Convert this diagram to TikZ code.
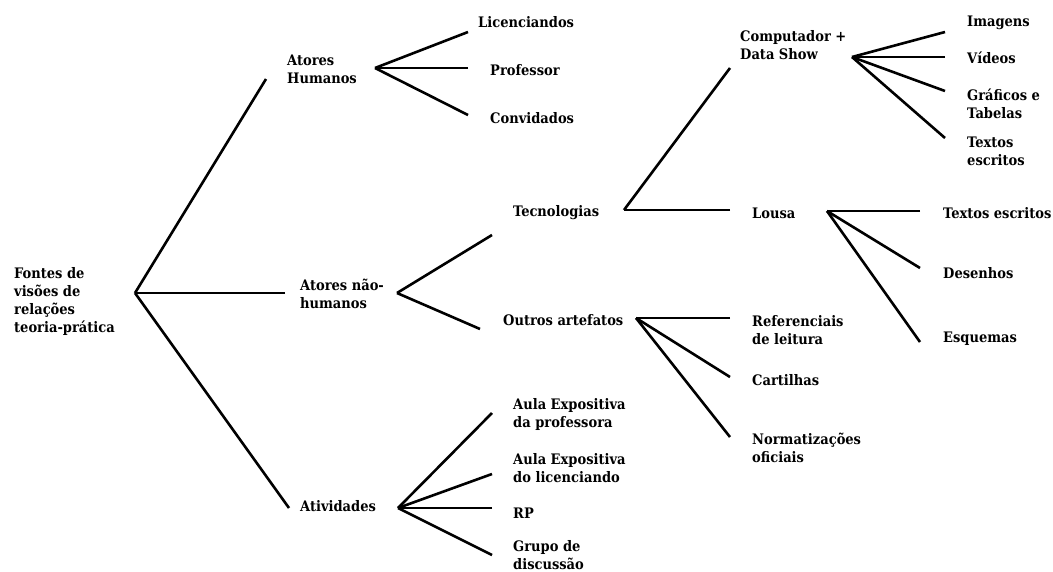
\documentclass[tikz,border=0pt]{standalone}
\usepackage{fontspec}
\setmainfont{DejaVu Serif Condensed}
\begin{document}
\begin{tikzpicture}[x=1pt,y=-1pt,
  lbl/.style={anchor=west,inner sep=0pt,align=left,
    font=\fontsize{14.5}{18}\selectfont\bfseries},
  branch/.style={line width=2.6pt,line join=round}]
\useasboundingbox (0,0) rectangle (1053,571);

% labels
\node[lbl] (root)   at (14,301)  {Fontes de\\visões de\\relações\\teoria-prática};
\node[lbl] (ah)     at (287,69)  {Atores\\Humanos};
\node[lbl] (lic)    at (478,22)  {Licenciandos};
\node[lbl] (prof)   at (490,70)  {Professor};
\node[lbl] (conv)   at (490,118) {Convidados};
\node[lbl] (anh)    at (300,294) {Atores não-\\humanos};
\node[lbl] (tec)    at (513,213) {Tecnologias};
\node[lbl] (cds)    at (740,45)  {Computador +\\Data Show};
\node[lbl] (img)    at (967,23)  {Imagens};
\node[lbl] (vid)    at (967,58)  {Vídeos};
\node[lbl] (graf)   at (967,104) {Gráficos e\\Tabelas};
\node[lbl] (txa)    at (967,151) {Textos\\escritos};
\node[lbl] (lousa)  at (752,213) {Lousa};
\node[lbl] (txb)    at (943,213) {Textos escritos};
\node[lbl] (des)    at (943,273) {Desenhos};
\node[lbl] (esq)    at (943,339) {Esquemas};
\node[lbl] (outros) at (503,320) {Outros artefatos};
\node[lbl] (ref)    at (752,330) {Referenciais\\de leitura};
\node[lbl] (cart)   at (752,380) {Cartilhas};
\node[lbl] (norm)   at (752,448) {Normatizações\\oficiais};
\node[lbl] (ativ)   at (300,506) {Atividades};
\node[lbl] (aep)    at (513,414) {Aula Expositiva\\da professora};
\node[lbl] (ael)    at (513,468) {Aula Expositiva\\do licenciando};
\node[lbl] (rp)     at (513,513) {RP};
\node[lbl] (grupo)  at (513,555) {Grupo de\\discussão};

% branching points
\coordinate (j0) at (135,293);
\coordinate (j1) at (375,68);
\coordinate (j2) at (397,293);
\coordinate (j3) at (624,210);
\coordinate (j4) at (852,57);
\coordinate (j5) at (827,211);
\coordinate (j6) at (636,318);
\coordinate (j7) at (398,508);

% branch tips
\coordinate (t-ah)    at (266,79);
\coordinate (t-anh)   at (285,293);
\coordinate (t-ativ)  at (289,508);
\coordinate (t-lic)   at (468,32);
\coordinate (t-prof)  at (468,68);
\coordinate (t-conv)  at (468,115);
\coordinate (t-tec)   at (492,235);
\coordinate (t-out)   at (480,329);
\coordinate (t-cds)   at (730,68);
\coordinate (t-lousa) at (730,210);
\coordinate (t-img)   at (945,32);
\coordinate (t-vid)   at (945,57);
\coordinate (t-graf)  at (945,91);
\coordinate (t-txa)   at (945,138);
\coordinate (t-txb)   at (920,211);
\coordinate (t-des)   at (920,268);
\coordinate (t-esq)   at (920,342);
\coordinate (t-ref)   at (730,318);
\coordinate (t-cart)  at (730,377);
\coordinate (t-norm)  at (730,437);
\coordinate (t-aep)   at (492,413);
\coordinate (t-ael)   at (492,474);
\coordinate (t-rp)    at (492,508);
\coordinate (t-grupo) at (492,555);

% branches
\foreach \j/\t in {j0/t-ah,j0/t-anh,j0/t-ativ,
                   j1/t-lic,j1/t-prof,j1/t-conv,
                   j2/t-tec,j2/t-out,
                   j3/t-cds,j3/t-lousa,
                   j4/t-img,j4/t-vid,j4/t-graf,j4/t-txa,
                   j5/t-txb,j5/t-des,j5/t-esq,
                   j6/t-ref,j6/t-cart,j6/t-norm,
                   j7/t-aep,j7/t-ael,j7/t-rp,j7/t-grupo}
  \draw[branch] (\t) -- (\j);
\end{tikzpicture}
\end{document}
